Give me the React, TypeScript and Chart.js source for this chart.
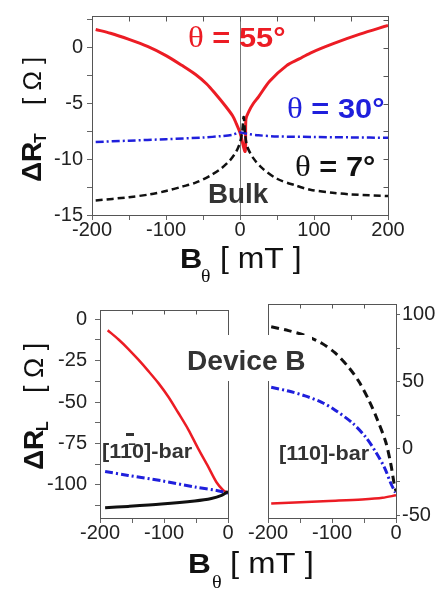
import React, { useEffect, useRef } from 'react';
import { Chart, registerables } from 'chart.js';

Chart.register(...registerables);

const SANS = '"Liberation Sans", Arial, Helvetica, sans-serif';
const SERIF = '"Liberation Serif", "Times New Roman", serif';

const RED = '#ec1c24';
const BLUE = '#1f1fdc';
const BLACK = '#111111';
const DARK = '#333333';
const AXIS = '#555555';

// ---------- Top panel (Bulk): ΔR_T vs B_θ ----------
const bulk55X = [-195, -175, -150, -125, -100, -78, -60, -45, -33, -20, -10, -5, 0, 7, 8, 12, 18, 25, 40, 63, 80, 95, 126, 162, 200];
const bulk55Y = [1.64, 1.3, 0.75, 0.12, -0.7, -1.6, -2.4, -3.25, -4.15, -5.2, -6.1, -6.8, -7.6, -9.3, -6.4, -5.7, -5.0, -4.4, -3.0, -1.6, -1.0, -0.47, 0.37, 1.22, 2.0];
const bulk30X = [-195, -150, -100, -50, -25, -10, 0, 10, 25, 50, 100, 150, 200];
const bulk30Y = [-8.45, -8.33, -8.2, -8.05, -7.92, -7.8, -7.6, -7.72, -7.85, -7.95, -8.0, -8.04, -8.07];
const bulk7X = [-195, -150, -122, -100, -78, -60, -40, -25, -13, -5, 0, 3, 5, 7, 10, 18, 30, 50, 75, 95, 125, 150, 200];
const bulk7Y = [-13.7, -13.4, -13.15, -12.85, -12.45, -12.1, -11.46, -10.8, -10.05, -9.3, -8.5, -7.5, -6.2, -7.8, -8.9, -9.9, -10.8, -11.75, -12.35, -12.73, -13.0, -13.15, -13.3];

const topXTicks = [-200, -150, -100, -50, 0, 50, 100, 150, 200];
const topXLabels = [-200, -100, 0, 100, 200];
const topYTicks = [-15, -12.5, -10, -7.5, -5, -2.5, 0, 2.5];
const topYLabels = [-15, -10, -5, 0];

// ---------- Bottom left panel ([1-10]-bar): ΔR_L ----------
const l55X = [-188, -171, -156, -140, -125, -109, -93, -78, -62, -47, -31, -18, -8, 0];
const l55Y = [-6.6, -12.2, -17.8, -24.4, -31, -38.4, -46.9, -56.3, -66.6, -77.8, -89, -98.4, -103, -105];
const l30X = [-192, -156, -104, -52, -16, 0];
const l30Y = [-91.9, -94.3, -97.5, -101.3, -103.5, -105];
const l7X = [-192, -156, -104, -52, -26, -10, 0];
const l7Y = [-113.8, -113, -111.6, -109.7, -108.2, -106.3, -104];

// ---------- Bottom right panel ([110]-bar) ----------
const r7X = [-195, -168, -142, -116, -95, -74, -58, -42, -29, -16, -8, -3, 0];
const r7Y = [91, 88.1, 84.5, 78.6, 71.4, 60.7, 50, 35.7, 21.4, 4.8, -11.9, -26.2, -32];
const r30X = [-195, -168, -142, -116, -95, -68, -47, -32, -18, -8, -1];
const r30Y = [45.7, 42.9, 39.3, 34.5, 28.6, 19, 8.3, -2.4, -14.3, -26.2, -33];
const r55X = [-195, -158, -105, -53, -21, 0];
const r55Y = [-41.2, -40.5, -39.3, -38.1, -36.9, -35];

const botXTicks = [-200, -150, -100, -50, 0];
const botXLabels = [-200, -100, 0];
const leftYTicks = [-112.5, -100, -87.5, -75, -62.5, -50, -37.5, -25, -12.5, 0];
const leftYLabels = [-100, -75, -50, -25, 0];
const rightYTicks = [-50, -25, 0, 25, 50, 75, 100];
const rightYLabels = [-50, 0, 50, 100];

const pts = (xs: number[], ys: number[]) => xs.map((x, i) => ({ x, y: ys[i] }));

type Seg = { t: string; f: string; x?: number; dy?: number; c?: string };

function drawSegs(ctx: CanvasRenderingContext2D, segs: Seg[], x: number, y: number, color: string, rotate = false, sx = 1) {
  ctx.save();
  ctx.translate(x, y);
  if (rotate) ctx.rotate(-Math.PI / 2);
  ctx.scale(sx, 1);
  ctx.textAlign = 'left';
  ctx.textBaseline = 'alphabetic';
  let cx = 0;
  for (const s of segs) {
    ctx.font = s.f;
    if (s.x !== undefined) cx = s.x / sx;
    ctx.fillStyle = s.c || color;
    ctx.fillText(s.t, cx, s.dy || 0);
    cx += ctx.measureText(s.t).width;
  }
  ctx.restore();
}

const solid = (label: string, data: any, color: string, w: number) => ({
  label, data, borderColor: color, borderWidth: w, pointRadius: 0, fill: false, tension: 0.3,
});
const dashed = (label: string, data: any, color: string, w: number, dash: number[]) => ({
  ...solid(label, data, color, w), borderDash: dash,
});

interface Spec {
  w: number; h: number; top: number;
  padding: { left: number; right: number; top: number; bottom: number };
  datasets: any[];
  xMin: number; xMax: number; xTicks: number[]; xLabels: number[];
  yMin: number; yMax: number; yTicks: number[]; yLabels: number[];
  yPos: 'left' | 'right'; yWidth: number; xHeight: number; yPad: number; yTickLen: number;
  innerTop: boolean; innerSide: 'left' | 'right' | null; innerLen: number;
  zeroLine?: boolean;
  overlay?: (ctx: CanvasRenderingContext2D) => void;
}

function Panel({ spec }: { spec: Spec }) {
  const ref = useRef<HTMLCanvasElement>(null);
  useEffect(() => {
    const plugin = {
      id: 'frame',
      beforeDatasetsDraw(chart: any) {
        if (!spec.zeroLine) return;
        const { ctx, chartArea: a, scales } = chart;
        const x = Math.round(scales.x.getPixelForValue(0)) + 0.5;
        ctx.save();
        ctx.strokeStyle = '#777';
        ctx.lineWidth = 1;
        ctx.beginPath();
        ctx.moveTo(x, a.top);
        ctx.lineTo(x, a.bottom);
        ctx.stroke();
        ctx.restore();
      },
      afterDraw(chart: any) {
        const { ctx, chartArea: a, scales } = chart;
        ctx.save();
        ctx.strokeStyle = AXIS;
        ctx.lineWidth = 1;
        const L = Math.round(a.left) + 0.5, T = Math.round(a.top) + 0.5;
        const R = Math.round(a.right) + 0.5, B = Math.round(a.bottom) + 0.5;
        ctx.strokeRect(L, T, R - L, B - T);
        ctx.beginPath();
        if (spec.innerTop) {
          for (const v of spec.xTicks) {
            const x = Math.round(scales.x.getPixelForValue(v)) + 0.5;
            ctx.moveTo(x, T);
            ctx.lineTo(x, T + spec.innerLen);
          }
        }
        if (spec.innerSide) {
          const x0 = spec.innerSide === 'right' ? R : L;
          const dir = spec.innerSide === 'right' ? -1 : 1;
          for (const v of spec.yTicks) {
            const y = Math.round(scales.y.getPixelForValue(v)) + 0.5;
            ctx.moveTo(x0, y);
            ctx.lineTo(x0 + dir * spec.innerLen, y);
          }
        }
        ctx.stroke();
        ctx.restore();
        if (spec.overlay) spec.overlay(ctx);
      },
    };
    const chart = new Chart(ref.current as HTMLCanvasElement, {
      type: 'line',
      data: { datasets: spec.datasets },
      options: {
        responsive: false,
        animation: false,
        devicePixelRatio: 1,
        layout: { padding: spec.padding },
        plugins: { legend: { display: false }, tooltip: { enabled: false } },
        scales: {
          x: {
            type: 'linear',
            min: spec.xMin,
            max: spec.xMax,
            afterBuildTicks: (s: any) => { s.ticks = spec.xTicks.map((v) => ({ value: v })); },
            afterFit: (s: any) => { s.height = spec.xHeight; },
            ticks: {
              autoSkip: false,
              maxRotation: 0,
              padding: -2,
              color: '#222',
              font: { family: SANS, size: 20 },
              callback: (v: any) => (spec.xLabels.includes(Number(v)) ? String(v) : ''),
            },
            grid: { drawOnChartArea: false, drawTicks: true, tickLength: 5, color: '#666' },
            border: { display: false },
          },
          y: {
            type: 'linear',
            position: spec.yPos,
            min: spec.yMin,
            max: spec.yMax,
            afterBuildTicks: (s: any) => { s.ticks = spec.yTicks.map((v) => ({ value: v })); },
            afterFit: (s: any) => { s.width = spec.yWidth; },
            ticks: {
              autoSkip: false,
              padding: spec.yPad,
              color: '#222',
              font: { family: SANS, size: 20 },
              callback: (v: any) => (spec.yLabels.includes(Number(v)) ? String(v) : ''),
            },
            grid: { drawOnChartArea: false, drawTicks: true, tickLength: spec.yTickLen, color: '#666' },
            border: { display: false },
          },
        },
      } as any,
      plugins: [plugin],
    });
    return () => chart.destroy();
  }, []);
  return (
    <canvas
      ref={ref}
      width={spec.w}
      height={spec.h}
      style={{ position: 'absolute', left: 0, top: spec.top, width: spec.w, height: spec.h }}
    />
  );
}

const topSpec: Spec = {
  w: 440, h: 290, top: 0,
  padding: { left: 0, right: 52, top: 4, bottom: 0 },
  datasets: [
    dashed('θ = 7°', pts(bulk7X, bulk7Y), BLACK, 2.5, [7, 4]),
    dashed('θ = 30°', pts(bulk30X, bulk30Y), BLUE, 2.5, [8, 3, 2, 3]),
    solid('θ = 55°', pts(bulk55X, bulk55Y), RED, 3),
  ],
  xMin: -200, xMax: 200, xTicks: topXTicks, xLabels: topXLabels,
  yMin: -15, yMax: 2.85, yTicks: topYTicks, yLabels: topYLabels,
  yPos: 'left', yWidth: 92, xHeight: 75, yPad: 4, yTickLen: 5,
  innerTop: true, innerSide: 'right', innerLen: 5, zeroLine: true,
  overlay: (ctx) => {
    drawSegs(ctx, [
      { t: 'ΔR', f: `bold 28px ${SANS}` },
      { t: 'T', f: `bold 16px ${SANS}`, x: 39, dy: 5 },
      { t: '[ Ω ]', f: `26px ${SANS}`, x: 77 },
    ], 41, 182, BLACK, true);
    drawSegs(ctx, [
      { t: 'B', f: `bold 28px ${SANS}` },
      { t: 'θ', f: `18px ${SERIF}`, x: 21, dy: 14 },
      { t: '[ mT ]', f: `29px ${SANS}`, x: 40 },
    ], 180, 268, BLACK, false, 1.1);
    drawSegs(ctx, [
      { t: 'θ', f: `30px ${SERIF}` },
      { t: ' = 55°', f: `bold 28px ${SANS}` },
    ], 188, 47, RED, false, 1.1);
    drawSegs(ctx, [
      { t: 'θ', f: `30px ${SERIF}` },
      { t: ' = 30°', f: `bold 28px ${SANS}` },
    ], 287, 118, BLUE, false, 1.1);
    drawSegs(ctx, [
      { t: 'θ', f: `30px ${SERIF}` },
      { t: ' = 7°', f: `bold 28px ${SANS}` },
    ], 295, 176, BLACK, false, 1.1);
    drawSegs(ctx, [{ t: 'Bulk', f: `bold 27px ${SANS}` }], 208, 203, DARK, false, 1.03);
  },
};

const leftSpec: Spec = {
  w: 440, h: 303, top: 290,
  padding: { left: 0, right: 212, top: 5, bottom: 0 },
  datasets: [
    solid('θ = 7°', pts(l7X, l7Y), BLACK, 3),
    dashed('θ = 30°', pts(l30X, l30Y), BLUE, 3, [8, 3, 2, 3]),
    solid('θ = 55°', pts(l55X, l55Y), RED, 2.5),
  ],
  xMin: -200, xMax: 0, xTicks: botXTicks, xLabels: botXLabels,
  yMin: -120, yMax: 5.6, yTicks: leftYTicks, yLabels: leftYLabels,
  yPos: 'left', yWidth: 100, xHeight: 75, yPad: 8, yTickLen: 5,
  innerTop: true, innerSide: null, innerLen: 4,
  overlay: (ctx) => {
    drawSegs(ctx, [
      { t: 'ΔR', f: `bold 28px ${SANS}` },
      { t: 'L', f: `bold 16px ${SANS}`, x: 39, dy: 5 },
      { t: '[ Ω ]', f: `27px ${SANS}`, x: 77 },
    ], 43, 180, BLACK, true);
    drawSegs(ctx, [{ t: '[11\u03040]-bar', f: `bold 21px ${SANS}` }], 102, 168, DARK, false, 1.03);
    // overbar of the Miller index
    ctx.save();
    ctx.fillStyle = DARK;
    ctx.fillRect(126, 143, 8, 3);
    ctx.restore();
  },
};

const rightSpec: Spec = {
  w: 440, h: 303, top: 290,
  padding: { left: 268, right: 0, top: 5, bottom: 0 },
  datasets: [
    dashed('θ = 7°', pts(r7X, r7Y), BLACK, 3, [8, 5]),
    dashed('θ = 30°', pts(r30X, r30Y), BLUE, 3, [8, 3, 2, 3]),
    solid('θ = 55°', pts(r55X, r55Y), RED, 2.5),
  ],
  xMin: -200, xMax: 0, xTicks: botXTicks, xLabels: botXLabels,
  yMin: -52, yMax: 108, yTicks: rightYTicks, yLabels: rightYLabels,
  yPos: 'right', yWidth: 44, xHeight: 75, yPad: 2, yTickLen: 4,
  innerTop: true, innerSide: null, innerLen: 4,
  overlay: (ctx) => {
    ctx.save();
    ctx.fillStyle = '#ffffff';
    ctx.fillRect(181, 45, 131, 46);
    ctx.restore();
    drawSegs(ctx, [{ t: 'Device B', f: `bold 27px ${SANS}` }], 187, 80, DARK, false, 1.04);
    drawSegs(ctx, [{ t: '[110]-bar', f: `bold 21px ${SANS}` }], 279, 170, DARK, false, 1.03);
    drawSegs(ctx, [
      { t: 'B', f: `bold 28px ${SANS}` },
      { t: 'θ', f: `18px ${SERIF}`, x: 24, dy: 15 },
      { t: '[ mT ]', f: `29px ${SANS}`, x: 42 },
    ], 188, 283, BLACK, false, 1.13);
  },
};

export default function App() {
  return (
    <div style={{ position: 'absolute', left: 0, top: 0, width: 440, height: 593, background: '#ffffff', overflow: 'hidden' }}>
      <Panel spec={topSpec} />
      <Panel spec={leftSpec} />
      <Panel spec={rightSpec} />
    </div>
  );
}
